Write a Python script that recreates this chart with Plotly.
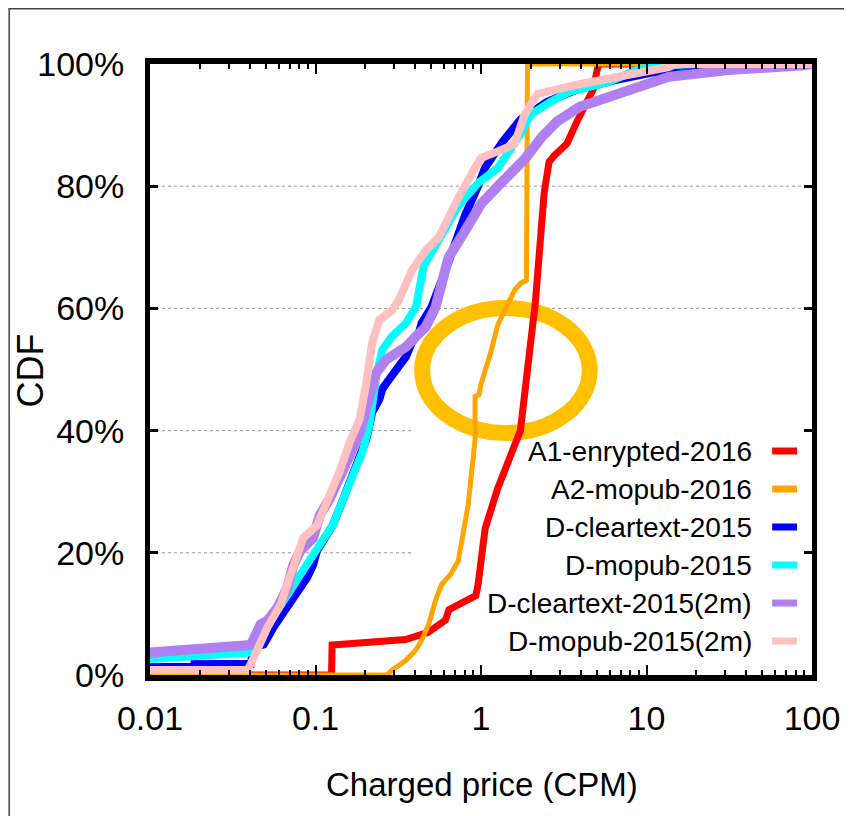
import plotly.graph_objects as go

# ---------------- data (CDF in %, price in CPM) ----------------
series_names = ["A1-enrypted-2016", "A2-mopub-2016", "D-cleartext-2015",
                "D-mopub-2015", "D-cleartext-2015(2m)", "D-mopub-2015(2m)"]
series_colors = ["#FF0000", "#FFA500", "#0000FF", "#00FFFF", "#B080F0", "#FFC0C0"]
series_widths = [7, 5, 8, 8, 10, 8]

a1_x = [0.01, 0.125, 0.126, 0.35, 0.48, 0.61, 0.64, 0.80, 0.93, 0.96,
        1.0, 1.06, 1.26, 1.45, 1.62, 1.73, 1.91, 2.13, 2.41, 2.58,
        2.77, 3.0, 3.31, 3.79, 4.18, 4.35, 4.8, 5.0, 5.14, 100]
a1_y = [0, 0, 4.9, 5.8, 7, 9, 10.7, 12, 13, 14.8,
        19, 24, 30.5, 35, 38, 40, 50, 61, 79, 84,
        85, 86, 87, 90.5, 93, 94, 96, 98.7, 100, 100]

a2_x = [0.01, 0.27, 0.29, 0.352, 0.404, 0.438, 0.483, 0.531, 0.577, 0.653,
        0.729, 0.781, 0.836, 0.896, 0.921, 0.921, 0.973, 1.0, 1.057, 1.148,
        1.263, 1.353, 1.45, 1.596, 1.733, 1.882, 1.909, 100]
a2_y = [0, 0, 0.8, 2.4, 4.1, 5.7, 8.3, 12.2, 14.8, 16.4,
        18.7, 23.2, 27.8, 35.4, 38.6, 45.6, 45.9, 47.6, 49.7, 52.9,
        57.3, 58.9, 60.9, 63.0, 64.1, 64.6, 100, 100]

dc_x = [0.01, 0.0186, 0.0186, 0.0406, 0.0424, 0.0487, 0.0557, 0.0614, 0.0676, 0.0777,
        0.0889, 0.0966, 0.102, 0.111, 0.127, 0.140, 0.154, 0.168, 0.185, 0.203,
        0.211, 0.220, 0.243, 0.253, 0.279, 0.319, 0.352, 0.382, 0.421, 0.438,
        0.502, 0.61, 0.70, 0.80, 0.959, 1.057, 1.353, 1.733, 2.51, 3.79,
        6.58, 11.4, 26.0, 45.1, 100]
dc_y = [1.3, 1.3, 1.8, 1.8, 4.5, 5.0, 7.8, 9.4, 11.5, 13.8,
        15.9, 18.0, 20.3, 21.9, 24.5, 27.3, 30.0, 33.3, 35.4, 38.6,
        40.7, 43.0, 45.1, 46.8, 48.4, 50.5, 52.1, 54.4, 56.0, 57.6,
        60.2, 66.2, 71.1, 75.2, 80.0, 83.0, 87.3, 90.9, 93.8, 95.8,
        97.4, 98.7, 99.5, 100, 100]

dm_x = [0.01, 0.0406, 0.0448, 0.0557, 0.0676, 0.0807, 0.0927, 0.106, 0.127, 0.146,
        0.168, 0.192, 0.211, 0.220, 0.233, 0.253, 0.290, 0.352, 0.404, 0.451,
        0.553, 0.729, 0.959, 1.263, 1.733, 1.99, 2.62, 3.45, 5.97, 9.02,
        13.6, 19.8, 100]
dm_y = [2.6, 3.7, 5.7, 9.4, 13.1, 16.4, 18.7, 21.3, 24.5, 28.4,
        32.1, 36.5, 40.7, 45.1, 48.9, 53.2, 55.4, 57.6, 60.2, 67.0,
        71.1, 76.8, 80.5, 83.0, 88.5, 91.7, 93.8, 95.5, 97.1, 99.2,
        99.8, 100, 100]

dc2_x = [0.01, 0.0406, 0.0467, 0.0513, 0.0589, 0.0676, 0.0735, 0.0807, 0.0966, 0.106,
         0.122, 0.140, 0.161, 0.185, 0.211, 0.233, 0.267, 0.352, 0.404, 0.464,
         0.531, 0.636, 0.80, 1.0, 1.263, 1.832, 2.34, 2.88, 3.95, 5.50,
         8.66, 13.6, 31.1, 49.6, 89.6, 100]
dc2_y = [3.7, 4.9, 8.3, 8.9, 11.0, 14.3, 18.0, 20.3, 22.4, 26.1,
         28.9, 32.1, 35.9, 39.8, 45.1, 49.5, 51.6, 53.7, 55.4, 57.0,
         60.2, 68.3, 72.7, 77.1, 80.0, 84.4, 88.1, 90.6, 93.0, 94.3,
         95.8, 97.9, 99.0, 99.2, 99.8, 100]

dm2_x = [0.01, 0.039, 0.0424, 0.0513, 0.0614, 0.0676, 0.0777, 0.0841, 0.102, 0.122,
         0.140, 0.161, 0.185, 0.203, 0.220, 0.243, 0.290, 0.319, 0.382, 0.464,
         0.553, 0.636, 0.729, 0.921, 1.0, 1.263, 1.596, 1.832, 2.19, 3.79,
         5.50, 8.66, 13.6, 15.0, 100]
dm2_y = [0.8, 0.8, 2.9, 7.8, 11.5, 14.8, 20.3, 22.4, 24.5, 29.4,
         33.3, 38.1, 41.9, 47.9, 54.4, 58.1, 59.7, 61.4, 66.2, 69.5,
         71.6, 74.8, 78.1, 83.0, 84.6, 85.7, 86.9, 91.7, 95.1, 96.6,
         97.4, 98.4, 99.5, 100, 100]

x_tick_vals = [0.01, 0.1, 1, 10, 100]
x_tick_text = ["0.01", "0.1", "1", "10", "100"]
y_tick_vals = [0, 20, 40, 60, 80, 100]
y_tick_text = ["0%", "20%", "40%", "60%", "80%", "100%"]

all_x = [a1_x, a2_x, dc_x, dm_x, dc2_x, dm2_x]
all_y = [a1_y, a2_y, dc_y, dm_y, dc2_y, dm2_y]

FONT = "Liberation Sans, Arial, sans-serif"

fig = go.Figure()
for name, xs, ys, col, w in zip(series_names, all_x, all_y, series_colors, series_widths):
    fig.add_trace(go.Scatter(x=xs, y=ys, mode="lines", name=name,
                             line=dict(color=col, width=w), showlegend=False,
                             hoverinfo="skip"))

shapes = []
# grid lines (partially hidden by the key box in the original)
for gv, xe in [(20, 0.3976), (40, 0.3976), (60, 1.0), (80, 1.0)]:
    shapes.append(dict(type="line", xref="paper", yref="y", x0=0, x1=xe, y0=gv, y1=gv,
                       line=dict(color="#999999", width=1, dash="dot"), layer="below"))
# highlight ellipse
shapes.append(dict(type="circle", xref="paper", yref="paper",
                   x0=0.4111, x1=0.6642, y0=0.3961, y1=0.6007,
                   line=dict(color="#FFC000", width=16), layer="below"))
# outer frame lines
shapes.append(dict(type="line", xref="paper", yref="paper", x0=-0.2139, x1=1.06,
                   y0=1.0904, y1=1.0904, line=dict(color="#444444", width=1.5)))
shapes.append(dict(type="line", xref="paper", yref="paper", x0=-0.2127, x1=-0.2127,
                   y0=1.0904, y1=-0.24, line=dict(color="#444444", width=1.5)))

annotations = []
legend_rows = [0.3666, 0.3044, 0.2422, 0.1800, 0.1178, 0.0556]
for name, col, yy in zip(series_names, series_colors, legend_rows):
    annotations.append(dict(text=name, xref="paper", yref="paper", x=0.9127, y=yy,
                            xanchor="right", yanchor="middle", showarrow=False,
                            font=dict(family=FONT, size=28, color="black")))
    shapes.append(dict(type="line", xref="paper", yref="paper", x0=0.9398, x1=0.9774,
                       y0=yy, y1=yy, line=dict(color=col, width=7)))

annotations.append(dict(text="Charged price (CPM)", xref="paper", yref="paper",
                        x=0.5015, y=-0.18, xanchor="center", yanchor="middle",
                        showarrow=False, font=dict(family=FONT, size=33, color="black")))
annotations.append(dict(text="CDF", xref="paper", yref="paper", x=-0.1807, y=0.499,
                        xanchor="center", yanchor="middle", textangle=-90,
                        showarrow=False, font=dict(family=FONT, size=36, color="black")))

fig.update_layout(
    width=844, height=808,
    margin=dict(l=142, r=38, t=56, b=141),
    paper_bgcolor="white", plot_bgcolor="white",
    shapes=shapes, annotations=annotations,
    showlegend=False,
)
fig.update_xaxes(type="log", range=[-2, 2], tickmode="array",
                 tickvals=x_tick_vals, ticktext=x_tick_text,
                 ticks="inside", ticklen=10, tickwidth=2, tickcolor="black",
                 showline=True, linewidth=6, linecolor="black", mirror="allticks",
                 showgrid=False, zeroline=False, ticklabelstandoff=8,
                 tickfont=dict(family=FONT, size=34, color="black"),
                 minor=dict(ticks="inside", ticklen=5, tickwidth=2, tickcolor="black",
                            dtick="D1", showgrid=False))
fig.update_yaxes(range=[0, 100], tickmode="array",
                 tickvals=y_tick_vals, ticktext=y_tick_text,
                 ticks="inside", ticklen=8, tickwidth=3, tickcolor="black",
                 showline=True, linewidth=5, linecolor="black", mirror="allticks",
                 showgrid=False, zeroline=False, ticklabelstandoff=14,
                 tickfont=dict(family=FONT, size=34, color="black"))

fig.write_html("out.html")
